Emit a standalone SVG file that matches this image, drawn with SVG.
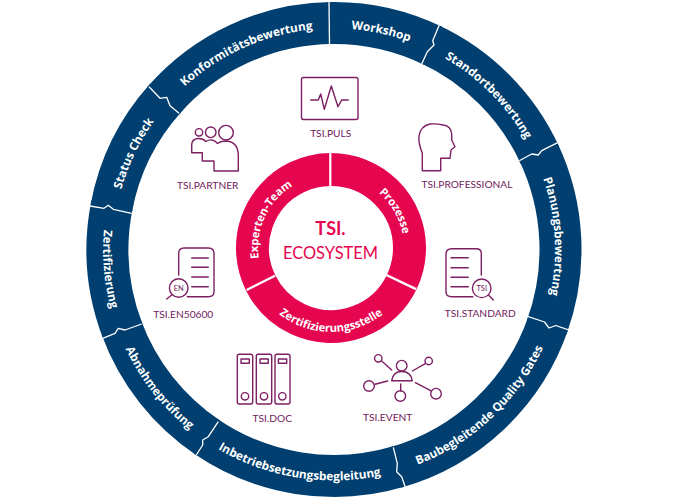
<svg xmlns="http://www.w3.org/2000/svg" width="681" height="500" viewBox="0 0 681 500">
<style>
.seg{fill:none;stroke:#003f70;stroke-width:42}
.iseg{fill:none;stroke:#e6054f;stroke-width:33}
.rt{font-family:"Open Sans",sans-serif;font-weight:700;font-size:11.8px;fill:#fff;text-anchor:middle}
.it{font-family:"Open Sans",sans-serif;font-weight:700;font-size:11.2px;fill:#fff;text-anchor:middle}
.lb{font-family:"Lato","Open Sans",sans-serif;font-size:10.2px;fill:#701a5c;text-anchor:middle}
.ic{fill:none;stroke:#7d1f63;stroke-width:1.4;stroke-linejoin:round;stroke-linecap:round}
.sm{font-family:"Lato","Open Sans",sans-serif;font-size:7.5px;fill:#701a5c;text-anchor:middle}
.sep{fill:none;stroke:#fff;stroke-width:1.3;stroke-linejoin:round}
.isep{fill:none;stroke:#fff;stroke-width:2.2}
</style>
<defs>
<path id="cw" d="M113 249.5A221 221 0 0 1 555 249.5"/>
<path id="ccw" d="M103 249.5A231 231 0 0 0 565 249.5"/>
<path id="icw" d="M258 248A73 73 0 0 1 404 248"/>
<path id="iccw" d="M247 248A84 84 0 0 0 415 248"/>
</defs>
<g id="ring-konformitaetsbewertung">
<circle class="seg" cx="334" cy="249.5" r="226.5" pathLength="360" stroke-dasharray="48.3 360" transform="rotate(221.1 334 249.5)"/>
<text class="rt" transform="rotate(-24 334 249.5)"><textPath href="#cw" startOffset="50%">Konformitätsbewertung</textPath></text>
</g>
<g id="ring-workshop">
<circle class="seg" cx="334" cy="249.5" r="226.5" pathLength="360" stroke-dasharray="27.5 360" transform="rotate(268.4 334 249.5)"/>
<text class="rt" transform="rotate(12.2 334 249.5)"><textPath href="#cw" startOffset="50%">Workshop</textPath></text>
</g>
<g id="ring-standortbewertung">
<circle class="seg" cx="334" cy="249.5" r="226.5" pathLength="360" stroke-dasharray="40.5 360" transform="rotate(-65.1 334 249.5)"/>
<text class="rt" transform="rotate(45.1 334 249.5)"><textPath href="#cw" startOffset="50%">Standortbewertung</textPath></text>
</g>
<g id="ring-planungsbewertung">
<circle class="seg" cx="334" cy="249.5" r="226.5" pathLength="360" stroke-dasharray="45.6 360" transform="rotate(-25.6 334 249.5)"/>
<text class="rt" transform="rotate(86.6 334 249.5)"><textPath href="#cw" startOffset="50%">Planungsbewertung</textPath></text>
</g>
<g id="ring-baubegleitende">
<circle class="seg" cx="334" cy="249.5" r="226.5" pathLength="360" stroke-dasharray="55.3 360" transform="rotate(19 334 249.5)"/>
<text class="rt" transform="rotate(-43 334 249.5)"><textPath href="#ccw" startOffset="50%">Baubegleitende Quality Gates</textPath></text>
</g>
<g id="ring-inbetriebsetzung">
<circle class="seg" cx="334" cy="249.5" r="226.5" pathLength="360" stroke-dasharray="51.4 360" transform="rotate(73.3 334 249.5)"/>
<text class="rt" transform="rotate(9.2 334 249.5)"><textPath href="#ccw" startOffset="50%">Inbetriebsetzungsbegleitung</textPath></text>
</g>
<g id="ring-abnahmepruefung">
<circle class="seg" cx="334" cy="249.5" r="226.5" pathLength="360" stroke-dasharray="36.1 360" transform="rotate(123.7 334 249.5)"/>
<text class="rt" transform="rotate(51.6 334 249.5)"><textPath href="#ccw" startOffset="50%">Abnahmeprüfung</textPath></text>
</g>
<g id="ring-zertifizierung">
<circle class="seg" cx="334" cy="249.5" r="226.5" pathLength="360" stroke-dasharray="32.6 360" transform="rotate(158.8 334 249.5)"/>
<text class="rt" transform="rotate(85 334 249.5)"><textPath href="#ccw" startOffset="50%">Zertifizierung</textPath></text>
</g>
<g id="ring-status-check">
<circle class="seg" cx="334" cy="249.5" r="226.5" pathLength="360" stroke-dasharray="31.7 360" transform="rotate(190.4 334 249.5)"/>
<text class="rt" transform="rotate(-64.4 334 249.5)"><textPath href="#cw" startOffset="50%">Status Check</textPath></text>
</g>
<g id="core-prozesse">
<circle class="iseg" cx="331" cy="248" r="78.5" pathLength="360" stroke-dasharray="115 360" transform="rotate(-90 331 248)"/>
<text class="it" transform="rotate(60 331 248)"><textPath href="#icw" startOffset="50%">Prozesse</textPath></text>
</g>
<g id="core-zertifizierungsstelle">
<circle class="iseg" cx="331" cy="248" r="78.5" pathLength="360" stroke-dasharray="129 360" transform="rotate(25 331 248)"/>
<text class="it"><textPath href="#iccw" startOffset="50%">Zertifizierungsstelle</textPath></text>
</g>
<g id="core-experten-team">
<circle class="iseg" cx="331" cy="248" r="78.5" pathLength="360" stroke-dasharray="116 360" transform="rotate(154 331 248)"/>
<text class="it" transform="rotate(-65 331 248)"><textPath href="#icw" startOffset="50%">Experten-Team</textPath></text>
</g>
<g id="core-title" font-family="Lato, 'Open Sans', sans-serif" fill="#e6054f" text-anchor="middle">
<text x="330.5" y="235" font-size="18" font-weight="700">TSI.</text>
<text x="330.5" y="259" font-size="18" textLength="95" lengthAdjust="spacingAndGlyphs">ECOSYSTEM</text>
</g>
<g id="connectors">
<path class="sep" d="M329 2L329.5 44"/>
<path class="sep" d="M439.3 25L432.7 40.7L434 45L427.3 51.7L421.7 64"/>
<path class="sep" d="M557.7 142.7L541.7 150.7L538.3 155L531.7 154L519.3 160.7"/>
<path class="sep" d="M527.5 316.3L544.5 322L549 328L555.7 325.5L570 330.3"/>
<path class="sep" d="M393.3 447.3L397.3 463.3L396.7 471.7L401.7 476.7L405.3 487.3"/>
<path class="sep" d="M218.3 421.7L208.3 436.7L202.7 440L202.7 445L196.3 455"/>
<path class="sep" d="M141.7 324L125 330L118.3 328.3L115 333.3L102.7 338.3"/>
<path class="sep" d="M90 206L104 208.3L108.3 205.3L113.3 209.3L131.7 213.3"/>
<path class="sep" d="M149 86.7L160 98.3L166.7 97.3L170 105.7L179 113.3"/>
<path class="isep" d="M330.3 153V186"/>
<path class="isep" d="M386.3 275L416 289.3"/>
<path class="isep" d="M275 275.7L246.7 290"/>
</g>
<g id="tsi-puls">
<rect class="ic" x="301.5" y="77.5" width="56.5" height="42" rx="2"/>
<path class="ic" d="M310.7 100H318.3L320.7 94L324.3 109.3L331.3 86L338 106.7L341.7 100H348.3"/>
<text class="lb" x="330.7" y="136.7">TSI.PULS</text>
</g>
<g id="tsi-partner">
<circle class="ic" cx="199" cy="132.3" r="3.7"/>
<circle class="ic" cx="210.7" cy="132.3" r="5.3"/>
<circle class="ic" cx="226" cy="132.7" r="7.3"/>
<path class="ic" d="M191.7 152.7V145Q191.7 139 198 138.5Q203 138.3 206 141.5Q209 139.5 212 140Q215.5 140.5 217.3 143.3Q221 141 226.7 141Q238.3 142 238.3 156V171H214V161H202.3V152.7Z"/>
<text class="lb" x="207.7" y="189.3">TSI.PARTNER</text>
</g>
<g id="tsi-professional">
<path class="ic" d="M422.3 170.7H440.7V158.3H450L451 150L455 146.7L451.7 140V134Q451 126 443.3 125Q436 123.5 430 124Q420.5 126 419 136Q418 142 422.3 153.3Z"/>
<text class="lb" x="467" y="188.3">TSI.PROFESSIONAL</text>
</g>
<g id="tsi-standard">
<path class="ic" d="M481.3 275V253.3Q481.3 248.7 476 248.7H451.7Q446 248.7 446 254V291.7Q446 296.7 451.7 296.7H472.7"/>
<path class="ic" d="M451 257.7H468.3M451 267.7H468.3M451 277.3H468.3M451 286.7H468.3"/>
<circle class="ic" cx="481.7" cy="288.3" r="9.3"/>
<path class="ic" d="M488.7 295.3L493.3 300"/>
<text class="sm" x="481.7" y="291">TSI</text>
<text class="lb" x="480.3" y="317.3">TSI.STANDARD</text>
</g>
<g id="tsi-event">
<circle class="ic" cx="401.7" cy="365.7" r="5.3"/>
<path class="ic" d="M391.7 380.7Q393 371.5 401.7 371.5Q411 371.5 412.3 380.7Z"/>
<circle class="ic" cx="378.3" cy="358.3" r="3.7"/>
<path class="ic" d="M381.7 361L391.7 370"/>
<circle class="ic" cx="428.7" cy="361" r="3.7"/>
<path class="ic" d="M425.3 363.7L412.3 371"/>
<circle class="ic" cx="369" cy="386" r="5.3"/>
<path class="ic" d="M375 384.3L387.7 381"/>
<circle class="ic" cx="436" cy="393.7" r="5.3"/>
<path class="ic" d="M430.7 390.7L415.3 382.7"/>
<circle class="ic" cx="400.3" cy="396" r="5.3"/>
<path class="ic" d="M400.7 391V384"/>
<text class="lb" x="387.7" y="420.7">TSI.EVENT</text>
</g>
<g id="tsi-doc">
<rect class="ic" x="237.3" y="354.3" width="15.4" height="49.7" rx="2"/>
<rect class="ic" x="256.3" y="354.3" width="15.4" height="49.7" rx="2"/>
<rect class="ic" x="275" y="354.3" width="15" height="49.7" rx="2"/>
<rect class="ic" x="241" y="359" width="8.3" height="4.3"/>
<rect class="ic" x="260" y="359" width="8.3" height="4.3"/>
<rect class="ic" x="278.4" y="359" width="8.3" height="4.3"/>
<circle class="ic" cx="245" cy="396.3" r="3.7"/>
<circle class="ic" cx="264" cy="396.3" r="3.7"/>
<circle class="ic" cx="282.3" cy="396.3" r="3.7"/>
<text class="lb" x="272.3" y="421.7">TSI.DOC</text>
</g>
<g id="tsi-en50600">
<path class="ic" d="M178.7 275V253.3Q178.7 248 184 248H208.3Q214 248 214 253.3V291.7Q214 296.7 208.3 296.7H187.3"/>
<path class="ic" d="M191.7 258H208.3M191.7 267.3H208.3M191.7 277H208.3M191.7 286.7H208.3"/>
<circle class="ic" cx="178.7" cy="288" r="9.3"/>
<path class="ic" d="M171.7 295L166.7 299"/>
<text class="sm" x="178.7" y="290.8">EN</text>
<text class="lb" x="183.3" y="317.7">TSI.EN50600</text>
</g>
</svg>
